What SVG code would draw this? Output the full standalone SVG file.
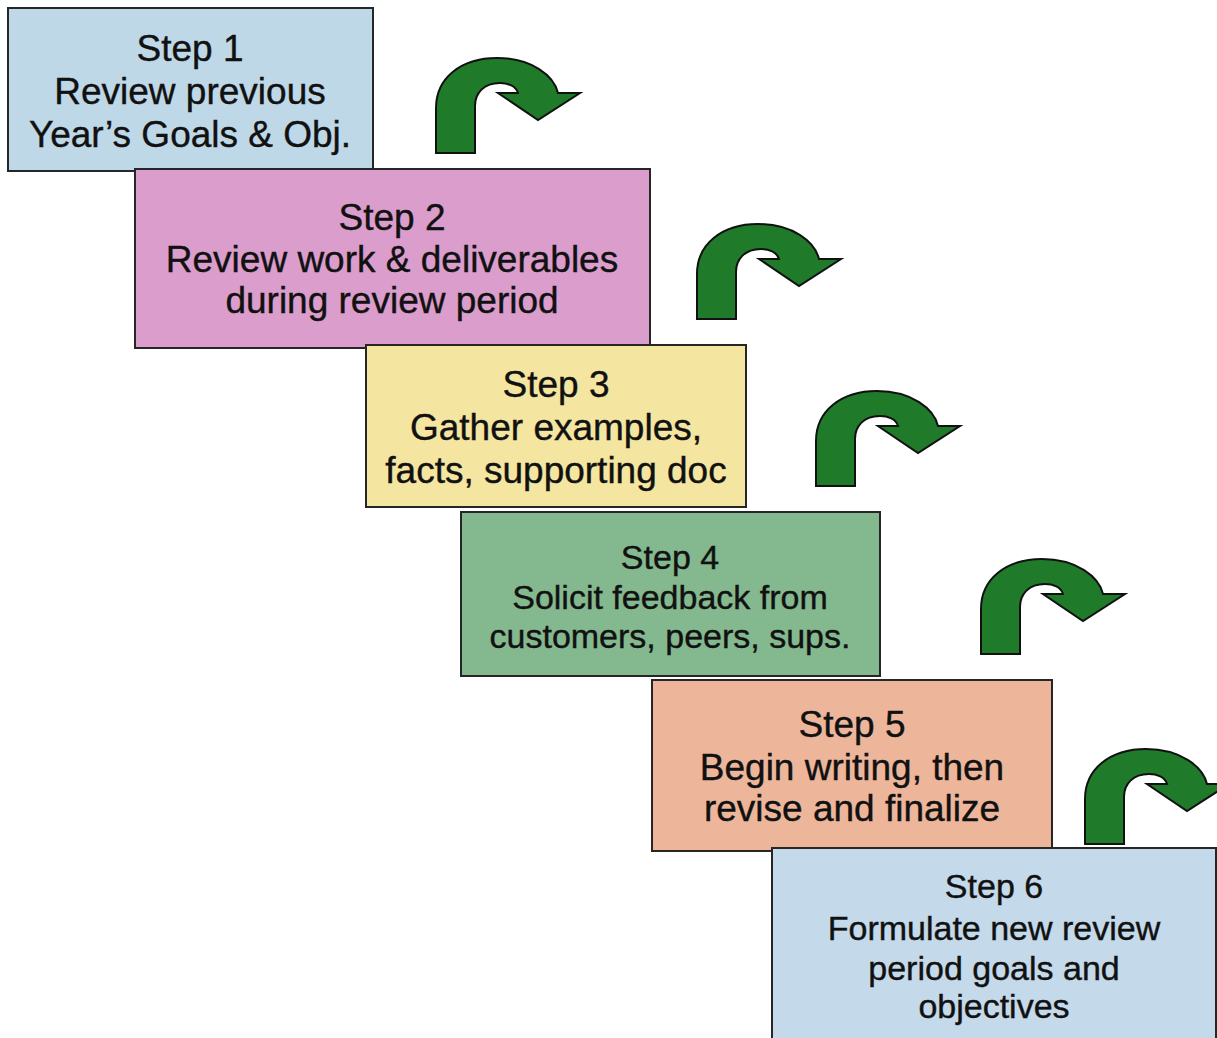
<svg xmlns="http://www.w3.org/2000/svg" width="1217" height="1038" viewBox="0 0 1217 1038">
<style>
.box{stroke:#262626;stroke-width:2}
.t{font-family:"Liberation Sans",Arial,sans-serif;font-size:37px;fill:#111;stroke:#111;stroke-width:0.4;text-anchor:middle}
.s{font-size:34px}
.arrow{fill:#1f7a2a;stroke:#111;stroke-width:2;stroke-linejoin:miter}
</style>
<defs>
<path id="uturn" d="M0,95 L0,50 C0,20 25,0 61,0 C96,0 118,18 122,35 L144,35 L102,62 L62,35 L82,35 C80,28 72,25 64,25 C48,25 39,35 39,48 L39,95 Z"/>
</defs>
<rect width="1217" height="1038" fill="#ffffff"/>
<g id="connectors">
<use href="#uturn" class="arrow" transform="translate(436,58)"/>
<use href="#uturn" class="arrow" transform="translate(697,224)"/>
<use href="#uturn" class="arrow" transform="translate(816,391)"/>
<use href="#uturn" class="arrow" transform="translate(981,559)"/>
<use href="#uturn" class="arrow" transform="translate(1085,749)"/>
</g>
<g id="step1">
<rect class="box" x="8" y="8" width="365" height="163" fill="#bfd8e8"/>
<text class="t" x="190" y="61">Step 1</text>
<text class="t" x="190" y="104">Review previous</text>
<text class="t" x="190" y="147">Year’s Goals &amp; Obj.</text>
</g>
<g id="step2">
<rect class="box" x="135" y="169" width="515" height="179" fill="#db9dcb"/>
<text class="t" x="392" y="230">Step 2</text>
<text class="t" x="392" y="272">Review work &amp; deliverables</text>
<text class="t" x="392" y="313">during review period</text>
</g>
<g id="step3">
<rect class="box" x="366" y="345" width="380" height="162" fill="#f4e5a0"/>
<text class="t" x="556" y="397">Step 3</text>
<text class="t" x="556" y="440">Gather examples,</text>
<text class="t" x="556" y="483">facts, supporting doc</text>
</g>
<g id="step4">
<rect class="box" x="461" y="512" width="419" height="164" fill="#84b98f"/>
<text class="t s" x="670" y="569">Step 4</text>
<text class="t s" x="670" y="609">Solicit feedback from</text>
<text class="t s" x="670" y="648">customers, peers, sups.</text>
</g>
<g id="step5">
<rect class="box" x="652" y="680" width="400" height="171" fill="#edb69b"/>
<text class="t" x="852" y="737">Step 5</text>
<text class="t" x="852" y="780">Begin writing, then</text>
<text class="t" x="852" y="821">revise and finalize</text>
</g>
<g id="step6">
<rect class="box" x="772" y="848" width="444" height="200" fill="#c4d9e9"/>
<text class="t s" x="994" y="898">Step 6</text>
<text class="t s" x="994" y="940">Formulate new review</text>
<text class="t s" x="994" y="980">period goals and</text>
<text class="t s" x="994" y="1018">objectives</text>
</g>
</svg>
